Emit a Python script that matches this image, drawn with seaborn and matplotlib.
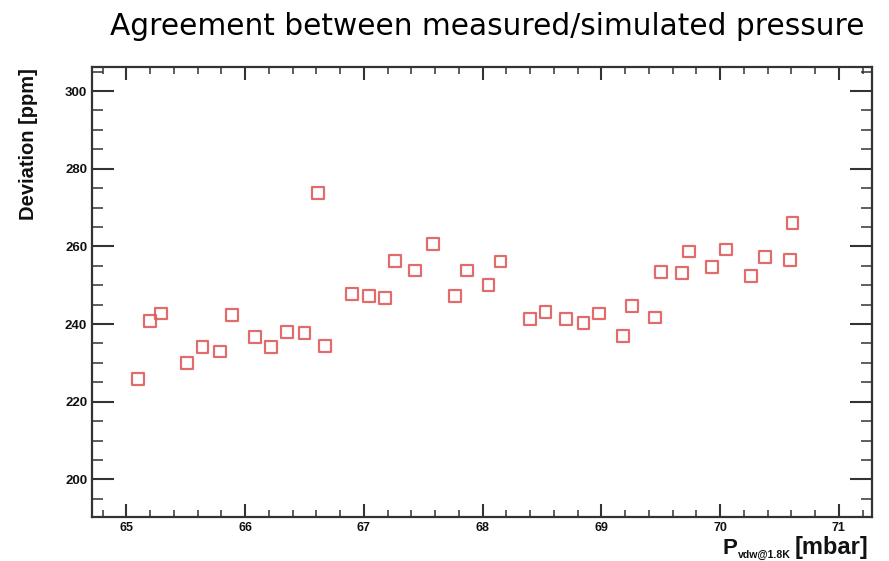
import matplotlib
matplotlib.use("Agg")
import matplotlib.pyplot as plt
from matplotlib.ticker import MultipleLocator
import seaborn as sns
import pandas as pd

# Measured pressure at 1.8 K [mbar]
pressure = [65.10, 65.20, 65.29, 65.51, 65.64, 65.79, 65.89, 66.08, 66.22, 66.35,
            66.50, 66.61, 66.67, 66.90, 67.04, 67.18, 67.26, 67.43, 67.58, 67.77,
            67.87, 68.05, 68.15, 68.40, 68.53, 68.70, 68.85, 68.98, 69.18, 69.26,
            69.45, 69.50, 69.68, 69.74, 69.93, 70.05, 70.26, 70.38, 70.59, 70.61]
# Deviation between measured and simulated pressure [ppm]
deviation = [225.9, 240.7, 242.7, 229.9, 234.1, 232.9, 242.4, 236.6, 234.0, 237.9,
             237.7, 273.8, 234.4, 247.7, 247.3, 246.7, 256.3, 253.8, 260.6, 247.3,
             253.8, 250.1, 256.1, 241.3, 243.2, 241.3, 240.3, 242.7, 237.0, 244.7,
             241.7, 253.3, 253.1, 258.7, 254.7, 259.2, 252.4, 257.2, 256.4, 266.1]

x_major = [65, 66, 67, 68, 69, 70, 71]
y_major = [200, 220, 240, 260, 280, 300]

df = pd.DataFrame({"pressure": pressure, "deviation": deviation})

sns.set_theme(style="white")
plt.rcParams["font.family"] = ["Liberation Sans", "DejaVu Sans"]

W, H = 889, 561
fig = plt.figure(figsize=(W / 100, H / 100), dpi=100)
ax = fig.add_axes([0.1035, 0.0784, 0.8775, 0.8022])

sns.scatterplot(data=df, x="pressure", y="deviation", ax=ax, marker="s", s=72,
                facecolor="none", edgecolor="#de5c5c", linewidth=1.6, alpha=0.9,
                legend=False)

ax.set_xlim(64.71, 71.28)
ax.set_ylim(190.3, 306.2)
ax.set_xticks(x_major)
ax.set_yticks(y_major)
ax.xaxis.set_minor_locator(MultipleLocator(0.2))
ax.yaxis.set_minor_locator(MultipleLocator(5))

frame_col = "#333333"
for sp in ax.spines.values():
    sp.set_color(frame_col)
    sp.set_linewidth(1.6)

ax.tick_params(axis="x", which="major", direction="in", length=9.5, width=1.5,
               top=True, bottom=True, color=frame_col, labelsize=9, pad=3.5)
ax.tick_params(axis="x", which="minor", direction="in", length=5, width=1.1,
               top=True, bottom=True, color=frame_col)
ax.tick_params(axis="y", which="major", direction="in", length=16, width=1.5,
               left=True, right=True, color=frame_col, labelsize=9.5, pad=3.5)
ax.tick_params(axis="y", which="minor", direction="in", length=8, width=1.1,
               left=True, right=True, color=frame_col)
for lbl in ax.get_xticklabels() + ax.get_yticklabels():
    lbl.set_fontweight("bold")
    lbl.set_color("#111111")

ax.set_xlabel("")
ax.set_ylabel("")
fig.text(0.0325, 0.8788, "Deviation [ppm]", rotation=90, ha="center", va="top",
         fontsize=14.5, fontweight="bold", color="#111111")


def px(x, y):
    """Pixel position (from the top-left corner) to figure fraction."""
    return x / W, (H - y) / H


# x-axis title: P with a small subscript, then the unit
fig.text(*px(722, 554), "P", ha="left", va="baseline", fontsize=16,
         fontweight="bold", color="#111111")
fig.text(*px(738, 558), "vdw@1.8K", ha="left", va="baseline", fontsize=7.6,
         fontweight="bold", color="#111111")
fig.text(*px(795, 554), "[mbar]", ha="left", va="baseline", fontsize=17,
         fontweight="bold", color="#111111")

fig.text(0.973, 0.953, "Agreement between measured/simulated pressure",
         ha="right", va="center", fontsize=21.3, family=["DejaVu Sans"],
         color="black")

fig.savefig("out.png", dpi=100)
